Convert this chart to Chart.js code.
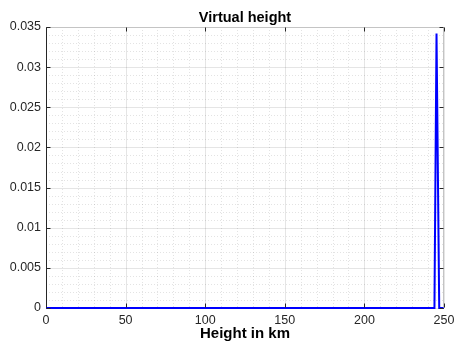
<!DOCTYPE html>
<html>
<head>
<meta charset="utf-8">
<script src="https://cdn.jsdelivr.net/npm/chart.js@4/dist/chart.umd.min.js"></script>
<style>
  html, body { margin: 0; padding: 0; background: #fff; }
  #wrap { width: 454px; height: 345px; }
</style>
</head>
<body>
<div id="wrap"><canvas id="c" width="454" height="345"></canvas></div>
<script>
// Virtual height profile (km) and its amplitude
const heightKm = [0, 244, 245.3, 247, 250];
const amplitude = [0, 0, 0.0342, 0, 0];

const titleText = 'Virtual height';
const xAxisTitle = 'Height in km';

const xRange = [0, 250];
const yRange = [0, 0.035];
const xMajorStep = 50, xMinorStep = 10;
const yMajorStep = 0.005, yMinorStep = 0.001;

const FONT = '"Liberation Sans", Arial, Helvetica, sans-serif';
const AXIS_COLOR = '#262626';

// Grid lines (minor dotted, major solid) drawn from the chart's own scales
const gridPlugin = {
  id: 'matlabGrid',
  beforeDatasetsDraw(chart) {
    const { ctx, chartArea: a, scales: { x, y } } = chart;
    ctx.save();
    ctx.lineWidth = 1;
    // minor
    ctx.strokeStyle = 'rgba(38,38,38,0.13)';
    ctx.setLineDash([1, 2]);
    for (let v = xRange[0]; v <= xRange[1] + 1e-9; v += xMinorStep) {
      if (Math.abs(v % xMajorStep) < 1e-9) continue;
      const px = Math.round(x.getPixelForValue(v)) + 0.5;
      ctx.beginPath(); ctx.moveTo(px, a.top); ctx.lineTo(px, a.bottom); ctx.stroke();
    }
    for (let i = 0; i <= Math.round((yRange[1] - yRange[0]) / yMinorStep); i++) {
      if (i % 5 === 0) continue;
      const py = Math.round(y.getPixelForValue(yRange[0] + i * yMinorStep)) + 0.5;
      ctx.beginPath(); ctx.moveTo(a.left, py); ctx.lineTo(a.right, py); ctx.stroke();
    }
    // major
    ctx.setLineDash([]);
    ctx.strokeStyle = 'rgba(38,38,38,0.12)';
    for (let v = xRange[0]; v <= xRange[1] + 1e-9; v += xMajorStep) {
      const px = Math.round(x.getPixelForValue(v)) + 0.5;
      ctx.beginPath(); ctx.moveTo(px, a.top); ctx.lineTo(px, a.bottom); ctx.stroke();
    }
    for (let i = 0; i <= Math.round((yRange[1] - yRange[0]) / yMajorStep); i++) {
      const py = Math.round(y.getPixelForValue(yRange[0] + i * yMajorStep)) + 0.5;
      ctx.beginPath(); ctx.moveTo(a.left, py); ctx.lineTo(a.right, py); ctx.stroke();
    }
    ctx.restore();
  },
  afterDatasetsDraw(chart) {
    const { ctx, chartArea: a, scales: { x, y } } = chart;
    const L = Math.round(a.left) + 0.5, R = Math.round(a.right) - 0.5;
    const T = Math.round(a.top) + 0.5, B = Math.round(a.bottom) - 0.5;
    ctx.save();
    ctx.lineWidth = 1;
    // box: top/right light, left dark
    ctx.strokeStyle = '#c4c4c4';
    ctx.beginPath(); ctx.moveTo(L, T); ctx.lineTo(R, T); ctx.lineTo(R, B); ctx.stroke();
    ctx.strokeStyle = AXIS_COLOR;
    ctx.beginPath(); ctx.moveTo(L, T); ctx.lineTo(L, B); ctx.stroke();
    // inward tick marks on all four sides
    const tl = 4;
    ctx.strokeStyle = AXIS_COLOR;
    for (let v = xRange[0]; v <= xRange[1] + 1e-9; v += xMajorStep) {
      const px = Math.round(x.getPixelForValue(v)) + 0.5;
      ctx.beginPath(); ctx.moveTo(px, B); ctx.lineTo(px, B - tl); ctx.stroke();
      ctx.beginPath(); ctx.moveTo(px, T); ctx.lineTo(px, T + tl); ctx.stroke();
    }
    for (let i = 0; i <= Math.round((yRange[1] - yRange[0]) / yMajorStep); i++) {
      const py = Math.round(y.getPixelForValue(yRange[0] + i * yMajorStep)) + 0.5;
      ctx.beginPath(); ctx.moveTo(L, py); ctx.lineTo(L + tl, py); ctx.stroke();
      ctx.beginPath(); ctx.moveTo(R, py); ctx.lineTo(R - tl, py); ctx.stroke();
    }
    ctx.restore();
  },
  afterDraw(chart) {
    const { ctx, chartArea: a } = chart;
    ctx.save();
    ctx.fillStyle = '#000';
    ctx.font = 'bold 14.5px ' + FONT;
    ctx.textAlign = 'center';
    ctx.textBaseline = 'alphabetic';
    ctx.fillText(titleText, (a.left + a.right) / 2, 21.5);
    ctx.restore();
  }
};

const fmt = v => String(parseFloat(Number(v).toFixed(4)));

new Chart(document.getElementById('c'), {
  type: 'line',
  data: {
    labels: heightKm,
    datasets: [{
      data: heightKm.map((h, i) => ({ x: h, y: amplitude[i] })),
      borderColor: '#0000ff',
      borderWidth: 2,
      pointRadius: 0,
      tension: 0,
      fill: false,
      clip: false
    }]
  },
  options: {
    responsive: false,
    animation: false,
    devicePixelRatio: 1,
    layout: { padding: { top: 27, right: 10, left: 0, bottom: 0 } },
    plugins: { legend: { display: false }, tooltip: { enabled: false }, title: { display: false } },
    scales: {
      x: {
        type: 'linear',
        min: xRange[0], max: xRange[1],
        grid: { display: false, drawTicks: false },
        border: { display: false },
        ticks: {
          stepSize: xMajorStep, autoSkip: false, maxRotation: 0, padding: 5,
          color: AXIS_COLOR, font: { family: FONT, size: 12.5 }, callback: fmt
        },
        title: {
          display: true, text: xAxisTitle, color: '#000',
          font: { family: FONT, size: 15, weight: 'bold' },
          padding: { top: 0, bottom: 2 }
        },
        afterFit(s) { s.height = 37; s.paddingLeft = 0; s.paddingRight = 0; }
      },
      y: {
        min: yRange[0], max: yRange[1],
        grid: { display: false, drawTicks: false },
        border: { display: false },
        ticks: {
          stepSize: yMajorStep, padding: 5,
          color: AXIS_COLOR, font: { family: FONT, size: 12.5 }, callback: fmt
        },
        afterFit(s) { s.width = 46; s.paddingTop = 0; s.paddingBottom = 0; }
      }
    }
  },
  plugins: [gridPlugin]
});
</script>
</body>
</html>
